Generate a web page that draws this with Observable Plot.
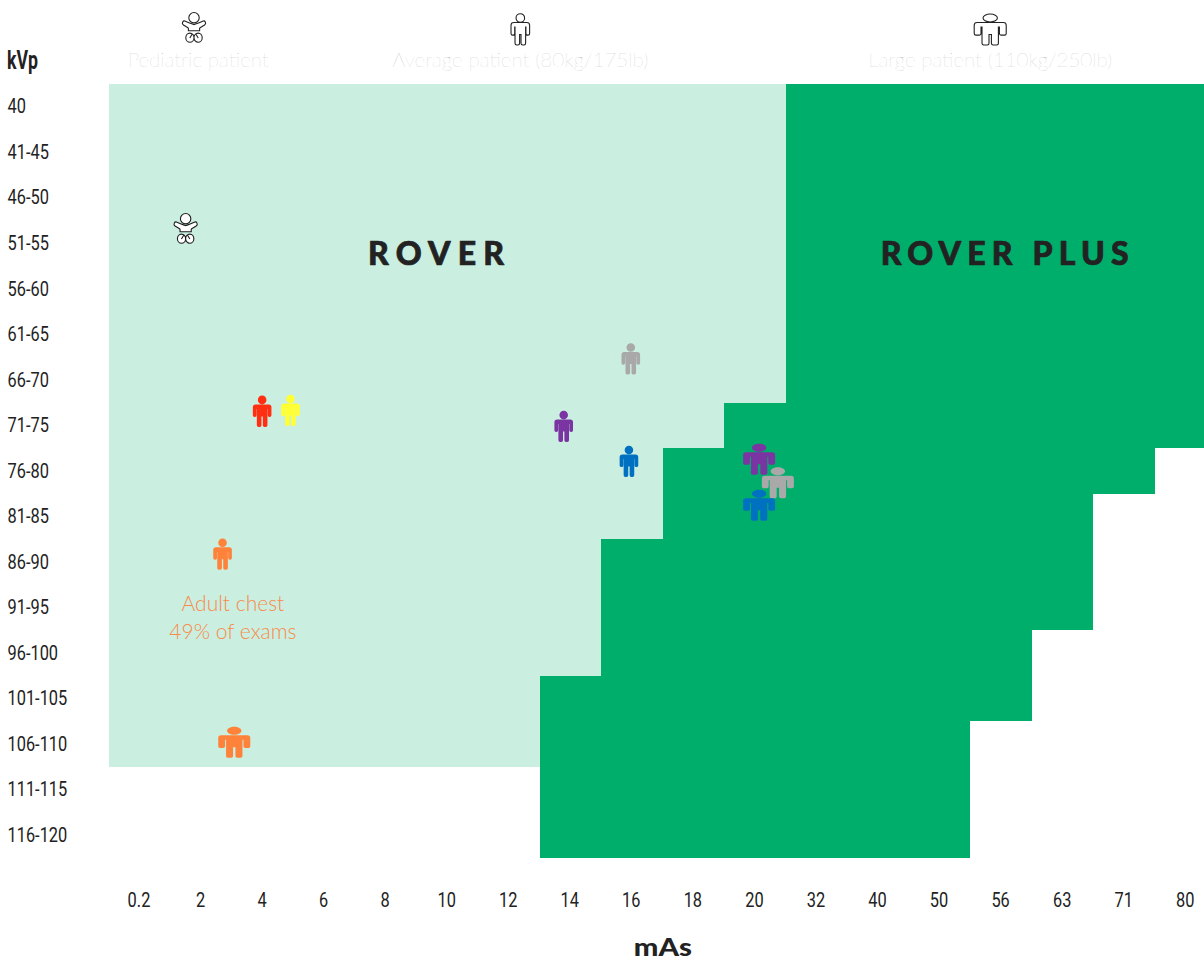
<!DOCTYPE html>
<html>
<head>
<meta charset="utf-8">
<script src="https://cdn.jsdelivr.net/npm/d3@7"></script>
<script src="https://cdn.jsdelivr.net/npm/@observablehq/plot@0.6"></script>
<style>
html,body{margin:0;padding:0;background:#fff;overflow:hidden}
svg{display:block}
</style>
</head>
<body>
<div id="chart"></div>
<script>
// Axis categories
const kvpLabels = ["40","41-45","46-50","51-55","56-60","61-65","66-70","71-75","76-80","81-85","86-90","91-95","96-100","101-105","106-110","111-115","116-120"];
const masLabels = ["0.2","2","4","6","8","10","12","14","16","18","20","32","40","50","56","63","71","80"];

// For each kVp row: first and last mAs column of the ROVER PLUS zone
const plusFrom = ["32","32","32","32","32","32","32","20","18","18","16","16","16","14","14","14","14"];
const plusTo   = ["80","80","80","80","80","80","80","80","71","63","63","63","56","56","50","50","50"];
// Rows where the ROVER zone is shown (from the first mAs column to plusFrom)
const roverRowCount = 15;

// Patient figures: position in column / row units
const figKinds = ["thin","thin","thin","thin","thin","thin","large","large","large","large","baby"];
const figX = [2.485,2.945,7.385,8.475,8.445,1.842,10.56,10.865,10.56,2.032,1.242];
const figY = [7.18,7.16,7.51,6.03,8.28,10.316,8.23,8.746,9.24,14.448,3.185];
const figFill = ["#ff2f12","#ffff33","#7a35a2","#a9a9a9","#0070c0","#ff823a","#7a35a2","#a9a9a9","#0070c0","#ff823a","#ffffff"];

// Header patient key
const headKinds = ["baby","thin","large"];
const headX = [1.378,6.68,14.315];
const headY = [-1.23,-1.208,-1.208];
const headLabels = ["Pediatric patient","Average patient (80kg/175lb)","Large patient (110kg/250lb)"];
const headLabelX = [1.445,6.68,14.315];
const headLabelWidths = [141,256,244];
const headLabelY = -0.527;

const rows = kvpLabels.map((k,i)=>({
  i, from: masLabels.indexOf(plusFrom[i]), to: masLabels.indexOf(plusTo[i]) + 1
}));
const figures = figKinds.map((kind,i)=>({kind,x:figX[i],y:figY[i],fill:figFill[i],stroke:kind==="baby"?"#1c1c1c":"none"}));
const heads = headKinds.map((kind,i)=>({kind,x:headX[i],y:headY[i]}));

function poly(c, pts){
  const n = pts.length;
  const mid = (a,b)=>[(a[0]+b[0])/2,(a[1]+b[1])/2];
  const st = mid(pts[n-1],pts[0]);
  c.moveTo(st[0],st[1]);
  for(let i=0;i<n;i++){
    const p = pts[i], q = pts[(i+1)%n], m = mid(p,q);
    if(p[2]) c.arcTo(p[0],p[1],m[0],m[1],p[2]); else c.lineTo(p[0],p[1]);
    c.lineTo(m[0],m[1]);
  }
  c.closePath();
}
function ell(c,cx,cy,rx,ry){
  const k=0.5523;
  c.moveTo(cx+rx,cy);
  c.bezierCurveTo(cx+rx,cy+k*ry,cx+k*rx,cy+ry,cx,cy+ry);
  c.bezierCurveTo(cx-k*rx,cy+ry,cx-rx,cy+k*ry,cx-rx,cy);
  c.bezierCurveTo(cx-rx,cy-k*ry,cx-k*rx,cy-ry,cx,cy-ry);
  c.bezierCurveTo(cx+k*rx,cy-ry,cx+rx,cy-k*ry,cx+rx,cy);
  c.closePath();
}
function body(c, o, ai, t, lg){
  const right = [[o,-7,2.8],[o,5.6,1.7],[ai,5.6,1.7],[ai,-2.5,0],[t,-2.5,0],[t,15.5,1.7],[lg,15.5,1.7],[lg,5,0]];
  const left = right.slice().reverse().map(p=>[-p[0],p[1],p[2]]);
  poly(c,[...right,...left]);
}
const thinSymbol = {draw(c){ ell(c,0,-11.5,4.3,4.3); body(c,9.3,5.6,5.3,0.7); }};
const largeSymbol = {draw(c){ ell(c,0,-11.5,7.2,4); body(c,16,9.2,8.2,1.2); }};
const babySymbol = {draw(c){
  ell(c,0,-10.8,5.2,5.2);
  poly(c,[[-4.5,-5.5,2],[-10.5,-8,1.5],[-12.2,-4.5,2],[-5.6,-0.5,1],[-5.6,2.2,0],[5.6,2.2,0],[5.6,-0.5,1],[12.2,-4.5,2],[10.5,-8,1.5],[4.5,-5.5,2],[0,-3.8,1]]);
  ell(c,-4.1,9.2,4.1,4.6); ell(c,4.1,9.2,4.1,4.6);
  c.moveTo(-1.8,5.5); c.lineTo(-4.2,9.5);
  c.moveTo(1.8,5.5); c.lineTo(4.2,9.5);
}};
const symbols = {thin:thinSymbol, large:largeSymbol, baby:babySymbol};

const tickFont = "Roboto,sans-serif";
const figMarks = Object.keys(symbols).flatMap(kind=>[
  Plot.dot(figures.filter(d=>d.kind===kind),{x:"x",y:"y",r:16,symbol:symbols[kind],fill:"fill",stroke:"stroke",strokeWidth:1.1}),
  Plot.dot(heads.filter(d=>d.kind===kind),{x:"x",y:"y",r:16,symbol:symbols[kind],fill:"#fff",stroke:"#222",strokeWidth:1.1})
]);

const chart = Plot.plot({
  width:1204, height:960,
  marginTop:84, marginBottom:102, marginLeft:108, marginRight:0,
  style:{background:"#fff",overflow:"hidden"},
  x:{type:"linear",domain:[0,masLabels.length],range:[108.7,1216.5],axis:null},
  y:{type:"linear",domain:[0,kvpLabels.length],range:[84,858],axis:null},
  marks:[
    Plot.rect(rows.slice(0,roverRowCount),{x1:0,x2:"from",y1:"i",y2:d=>d.i+1,fill:"#caeee0",shapeRendering:"crispEdges"}),
    Plot.rect(rows,{x1:"from",x2:"to",y1:"i",y2:d=>d.i+1,fill:"#00ae6b",shapeRendering:"crispEdges"}),
    Plot.axisX({anchor:"bottom",ticks:masLabels.map((_,i)=>i+0.5),tickFormat:v=>masLabels[Math.floor(v)],tickSize:0,tickPadding:34,dx:-1,label:null,fontSize:21,fontFamily:tickFont,fill:"#222"}),
    Plot.axisY({anchor:"left",ticks:kvpLabels.map((_,i)=>i+0.5),tickFormat:v=>kvpLabels[Math.floor(v)],tickSize:0,tickPadding:101,dy:-0.6,textAnchor:"start",label:null,fontSize:21,fontFamily:tickFont,fill:"#222"}),
    ...figMarks,
    Plot.text(headLabels,{x:(_,i)=>headLabelX[i],y:()=>headLabelY,text:d=>d,fontSize:20,fontFamily:"Lato",fontWeight:100,fill:"#c4c4c4",className:"head-label"}),
    Plot.text(["kVp"],{x:()=>-1.41,y:()=>-0.51,text:d=>d,fontSize:25,fontWeight:700,fontFamily:tickFont,fill:"#222",className:"kvp-title"}),
    Plot.text(["mAs"],{x:()=>8.995,y:()=>18.96,text:d=>d,fontSize:25,fontWeight:900,fontFamily:"Lato",fill:"#222",className:"mas-title"}),
    Plot.text(["ROVER","ROVER PLUS"],{x:(_,i)=>[5.31,14.55][i],y:()=>3.75,text:d=>d,fontSize:32,fontWeight:900,fontFamily:"Lato",fill:"#222",stroke:"#222",strokeWidth:0.7,className:"brand"}),
    Plot.text(["Adult chest","49% of exams"],{x:()=>2.01,y:(_,i)=>[11.42,12.04][i],text:d=>d,fontSize:21,fontWeight:300,fontFamily:"Lato",fill:"#f98a4a"})
  ]
});
document.getElementById("chart").appendChild(chart);

// Fit text to the condensed and spaced lettering of the reference
function fit(sel, len, adjust){
  chart.querySelectorAll(sel).forEach((t,i)=>{
    const natural = t.getComputedTextLength();
    t.setAttribute("textLength", len(natural,i));
    t.setAttribute("lengthAdjust", adjust);
  });
}
fit('g[aria-label$="tick label"] text', n=>n*0.78, "spacingAndGlyphs");
fit('.kvp-title text', ()=>31, "spacingAndGlyphs");
fit('.mas-title text', ()=>58, "spacingAndGlyphs");
fit('.head-label text', (n,i)=>headLabelWidths[i], "spacingAndGlyphs");
fit('.brand text', (n,i)=>[136,248][i], "spacing");
</script>
</body>
</html>
